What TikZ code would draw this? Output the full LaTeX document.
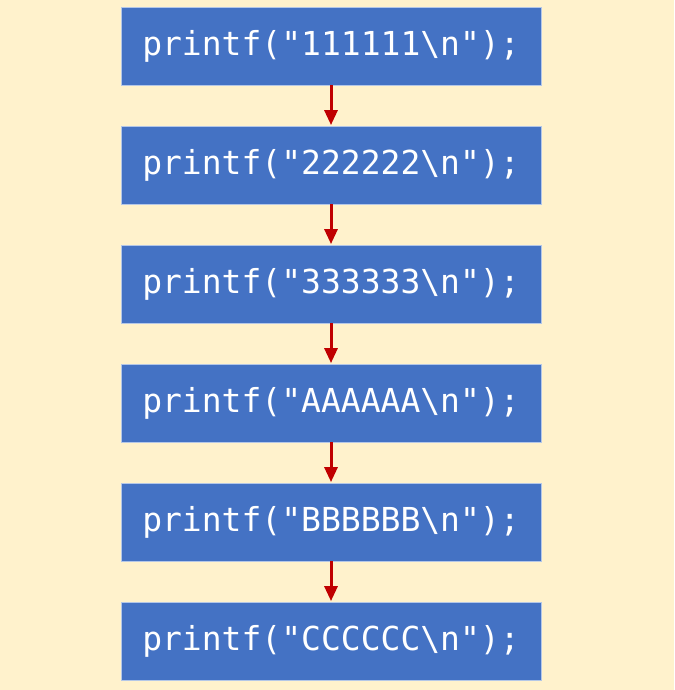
\documentclass[tikz,border=0pt]{standalone}
\usepackage{fontspec}
\newfontfamily\codefont{DejaVu Sans Mono}
\usetikzlibrary{arrows.meta}
\definecolor{bg}{HTML}{FFF2CC}
\definecolor{boxblue}{HTML}{4472C4}
\definecolor{boxedge}{HTML}{B4C7E7}
\definecolor{arrred}{HTML}{C00000}
\tikzset{
  codebox/.style={draw=boxedge, line width=0.8pt, fill=boxblue, minimum width=420pt, minimum height=78pt, inner sep=0pt,
    text=white, font=\codefont\fontsize{33pt}{40pt}\selectfont},
  flow/.style={draw=arrred, line width=3pt, -{Triangle[length=15pt,width=13pt]}, shorten >=0.5pt}
}
\begin{document}
\begin{tikzpicture}[x=1pt,y=-1pt]
\fill[bg] (0,0) rectangle (674,690);
\useasboundingbox (0,0) rectangle (674,690);
\node[codebox] (b1) at (331,46) {printf("111111\textbackslash n");};
\node[codebox] (b2) at (331,165) {printf("222222\textbackslash n");};
\node[codebox] (b3) at (331,284) {printf("333333\textbackslash n");};
\node[codebox] (b4) at (331,403) {printf("AAAAAA\textbackslash n");};
\node[codebox] (b5) at (331,522) {printf("BBBBBB\textbackslash n");};
\node[codebox] (b6) at (331,641) {printf("CCCCCC\textbackslash n");};
\draw[flow] (b1) -- (b2);
\draw[flow] (b2) -- (b3);
\draw[flow] (b3) -- (b4);
\draw[flow] (b4) -- (b5);
\draw[flow] (b5) -- (b6);
\end{tikzpicture}
\end{document}
